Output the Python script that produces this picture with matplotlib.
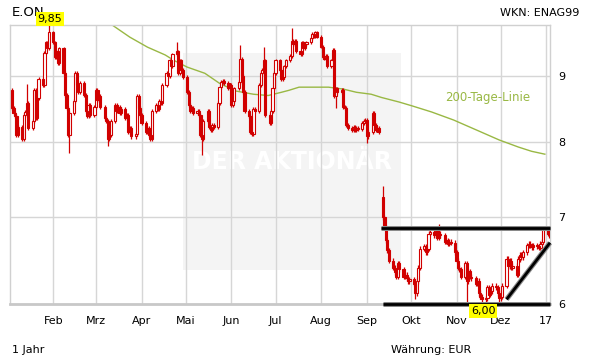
import matplotlib
matplotlib.use("Agg")
import matplotlib.pyplot as plt
import matplotlib.dates as mdates
from matplotlib.patches import Rectangle
from matplotlib.ticker import FixedLocator, FixedFormatter, NullLocator
import numpy as np
import pandas as pd

# Tagesschlusskurse E.ON (gelesen aus dem Chart), je Monat
jan = [8.50, 8.42, 8.38, 8.10, 8.22, 8.05, 8.40, 8.44, 8.58, 8.20,
       8.30, 8.78, 8.35, 8.65, 8.95, 8.85, 9.38, 9.55, 9.45, 9.72]
feb = [9.55, 9.30, 9.40, 9.20, 9.45, 9.05, 8.70, 8.50, 8.10, 8.42,
       8.60, 9.05, 8.85, 8.75, 8.88, 8.70, 8.45, 8.38, 8.55, 8.40, 8.52]
mrz = [8.78, 8.62, 8.68, 8.52, 8.35, 8.30, 8.05, 8.10, 8.30, 8.55, 8.45, 8.52,
       8.42, 8.48, 8.35, 8.40, 8.15, 8.20, 8.08, 8.12, 8.68, 8.50, 8.40]
apr = [8.28, 8.15, 8.20, 8.10, 8.05, 8.45, 8.55, 8.48, 8.60, 8.58, 8.85,
       9.05, 9.00, 9.25, 9.15, 9.35, 9.40, 9.05, 9.25, 9.10, 8.98]
mai = [8.75, 8.55, 8.45, 8.50, 8.42, 8.45, 8.40, 8.10, 8.05, 8.30, 8.45,
       8.22, 8.18, 8.25, 8.22, 8.58, 8.82, 8.90, 8.92, 8.88, 8.80, 8.85]
jun = [8.55, 8.60, 8.80, 8.90, 9.28, 9.00, 8.75, 8.45, 8.38, 8.15, 8.12,
       8.48, 8.45, 8.85, 9.05, 9.10, 9.25, 8.40, 8.28, 8.45, 8.80, 9.05]
jul = [9.25, 9.10, 8.95, 8.98, 9.15, 9.25, 9.32, 9.58, 9.52, 9.58, 9.40,
       9.35, 9.55, 9.45, 9.52, 9.55, 9.62, 9.70, 9.65, 9.72, 9.65]
aug = [9.48, 9.30, 9.28, 9.32, 9.15, 9.25, 9.42, 8.68, 8.80, 8.75, 8.78, 8.52,
       8.50, 8.25, 8.20, 8.18, 8.22, 8.17, 8.20, 8.19, 8.28, 8.30, 8.32]
sep = [8.08, 8.15, 8.42, 8.25, 8.18, 8.20, 8.15, 7.00, 6.88, 6.72, 6.60,
       6.48, 6.40, 6.35, 6.30, 6.45, 6.38, 6.30, 6.32, 6.28, 6.25, 6.27]
okt = [6.22, 6.12, 6.25, 6.40, 6.62, 6.65, 6.58, 6.62, 6.80, 6.82, 6.78,
       6.83, 6.75, 6.80, 6.78, 6.70, 6.72, 6.68, 6.70, 6.69, 6.58]
nov = [6.48, 6.40, 6.38, 6.30, 6.45, 6.25, 6.36, 6.30, 6.28, 6.22, 6.25,
       6.12, 6.08, 6.05, 6.06, 6.18, 6.10, 6.14, 6.20, 6.18, 6.12, 6.06]
dez = [6.08, 6.20, 6.50, 6.42, 6.48, 6.40, 6.42, 6.32, 6.50, 6.55, 6.52,
       6.58, 6.66, 6.68, 6.66, 6.64, 6.66, 6.65, 6.63, 6.68, 6.70, 6.85]
jan17 = [6.80, 6.78]
first_open = 8.78
open_gaps = {"2016-09-12": 7.25}

# Ausreisser (Dochte)
spike_hi = {"2016-01-14": 8.87, "2016-01-29": 9.85, "2016-04-25": 9.55,
            "2016-06-07": 9.50, "2016-06-23": 9.48, "2016-07-12": 9.80,
            "2016-09-12": 7.40, "2016-10-20": 6.92, "2016-12-30": 6.88}
spike_lo = {"2016-02-12": 7.85, "2016-03-09": 7.95, "2016-05-12": 7.82,
            "2016-08-11": 8.50, "2016-09-01": 7.98, "2016-10-04": 6.05,
            "2016-11-08": 6.02, "2016-11-18": 6.00, "2016-11-30": 6.02}

# 200-Tage-Linie
ma_dates = ["2016-03-12", "2016-03-24", "2016-04-05", "2016-04-17", "2016-04-23",
            "2016-05-02", "2016-05-14", "2016-05-24", "2016-06-04", "2016-06-16",
            "2016-06-26", "2016-07-05", "2016-07-10", "2016-07-17", "2016-08-06",
            "2016-08-16", "2016-08-25", "2016-09-04", "2016-09-11", "2016-09-23",
            "2016-10-02", "2016-10-15", "2016-10-30", "2016-11-16", "2016-11-30",
            "2016-12-13", "2016-12-22", "2016-12-31"]
ma_vals = [9.85, 9.64, 9.47, 9.34, 9.25, 9.14, 9.04, 8.88, 8.76, 8.71,
           8.69, 8.74, 8.77, 8.82, 8.82, 8.79, 8.74, 8.71, 8.66, 8.59,
           8.53, 8.44, 8.32, 8.16, 8.03, 7.93, 7.87, 7.83]

month_ticks = ["2016-02-01", "2016-03-01", "2016-04-01", "2016-05-01", "2016-06-01",
               "2016-07-01", "2016-08-01", "2016-09-01", "2016-10-01", "2016-11-01",
               "2016-12-01", "2017-01-01"]
month_labels = ["Feb", "Mrz", "Apr", "Mai", "Jun", "Jul", "Aug", "Sep", "Okt",
                "Nov", "Dez", "17"]

RED = "#d10000"

closes = np.array(jan + feb + mrz + apr + mai + jun + jul + aug + sep + okt + nov + dez + jan17)
days = pd.bdate_range("2016-01-04", periods=len(closes))
x = mdates.date2num(days)
opens = np.concatenate([[first_open], closes[:-1]])
for d, v in open_gaps.items():
    opens[days.get_loc(pd.Timestamp(d))] = v
highs = np.maximum(opens, closes) + 0.03
lows = np.minimum(opens, closes) - 0.03
for d, v in spike_hi.items():
    highs[days.get_loc(pd.Timestamp(d))] = v
for d, v in spike_lo.items():
    lows[days.get_loc(pd.Timestamp(d))] = v

W, H = 611, 364
fig = plt.figure(figsize=(W / 100, H / 100), dpi=100)
fig.patch.set_facecolor("white")
ax = fig.add_axes([10 / W, 1 - 304 / H, 540 / W, 279 / H])

x0 = mdates.date2num(pd.Timestamp("2016-01-04"))
ax.set_xlim(x0 - 1.4, x0 + 365.5)
ax.set_yscale("log")
ax.set_ylim(6.0, 9.85)

# Wasserzeichen
ax.add_patch(Rectangle((183 / W, 1 - 270 / H), 218 / W, 217 / H,
                       transform=fig.transFigure, facecolor="#f4f4f4",
                       edgecolor="none", zorder=0.5))
ax.text(292 / W, 1 - 162 / H, "DER AKTIONÄR", color="white", fontsize=17,
        fontweight="bold", ha="center", va="center", zorder=0.8,
        transform=fig.transFigure)

# Gitter
for d in month_ticks:
    ax.axvline(mdates.date2num(pd.Timestamp(d)), color="#d6d6d6", lw=1, zorder=1)
for v in [7, 8, 9]:
    ax.axhline(v, color="#d6d6d6", lw=1, zorder=1)

# 200-Tage-Linie
ax.plot(mdates.date2num(pd.to_datetime(ma_dates)), ma_vals, color="#99b844", lw=1, zorder=2)

# Kerzen
up = closes >= opens
body_lo = np.minimum(opens, closes)
body_h = np.maximum(np.abs(closes - opens), 0.01)
ax.vlines(x, lows, highs, color=RED, lw=0.9, zorder=3)
ax.bar(x[up], body_h[up], bottom=body_lo[up], width=1.5, facecolor="white",
       edgecolor=RED, linewidth=0.8, zorder=4)
ax.bar(x[~up], body_h[~up], bottom=body_lo[~up], width=1.5, facecolor=RED,
       edgecolor=RED, linewidth=0.8, zorder=4)

# Trendlinien
def trend(xs, ys):
    ax.plot(xs, ys, color="#8a8a8a", lw=3.6, solid_capstyle="butt", zorder=5, clip_on=False)
    ax.plot(xs, ys, color="black", lw=2.0, solid_capstyle="butt", zorder=6, clip_on=False)

xr = x0 + 365.5
trend([mdates.date2num(pd.Timestamp("2016-09-11")), xr], [6.87, 6.87])
trend([mdates.date2num(pd.Timestamp("2016-09-12")), xr], [6.0, 6.0])
trend([mdates.date2num(pd.Timestamp("2016-12-05")), xr], [6.05, 6.69])

# Achsen
for s in ax.spines.values():
    s.set_color("#d0d0d0")
    s.set_linewidth(1)
ax.spines["bottom"].set_linewidth(2)
ax.spines["bottom"].set_color("#c8c8c8")

ax.xaxis.set_major_locator(FixedLocator(mdates.date2num(pd.to_datetime(month_ticks))))
ax.xaxis.set_major_formatter(FixedFormatter(month_labels))
ax.xaxis.set_minor_locator(NullLocator())
ax.tick_params(axis="x", length=0, pad=9, labelsize=8)

ax.yaxis.tick_right()
ax.yaxis.set_major_locator(FixedLocator([6, 7, 8, 9]))
ax.yaxis.set_major_formatter(FixedFormatter(["6", "7", "8", "9"]))
ax.yaxis.set_minor_locator(NullLocator())
ax.tick_params(axis="y", length=0, pad=6, labelsize=8)

# Beschriftungen
fig.text(12 / W, 1 - 12 / H, "E.ON", fontsize=9.5, ha="left", va="center")
fig.text(500 / W, 1 - 13 / H, "WKN: ENAG99", fontsize=8, ha="left", va="center")
fig.text(12 / W, 1 - 350 / H, "1 Jahr", fontsize=8, ha="left", va="center")
fig.text(391 / W, 1 - 350 / H, "Währung: EUR", fontsize=8, ha="left", va="center")
fig.text(488 / W, 1 - 97 / H, "200-Tage-Linie", fontsize=8.5, color="#99b844",
         ha="center", va="center")
box = dict(boxstyle="square,pad=0.15", facecolor="#ffff00", edgecolor="none")
fig.text(50 / W, 1 - 19 / H, "9,85", fontsize=8, ha="center", va="center", bbox=box)
fig.text(483 / W, 1 - 311 / H, "6,00", fontsize=8, ha="center", va="center", bbox=box,
         zorder=10)

fig.savefig("out.png", dpi=100)
